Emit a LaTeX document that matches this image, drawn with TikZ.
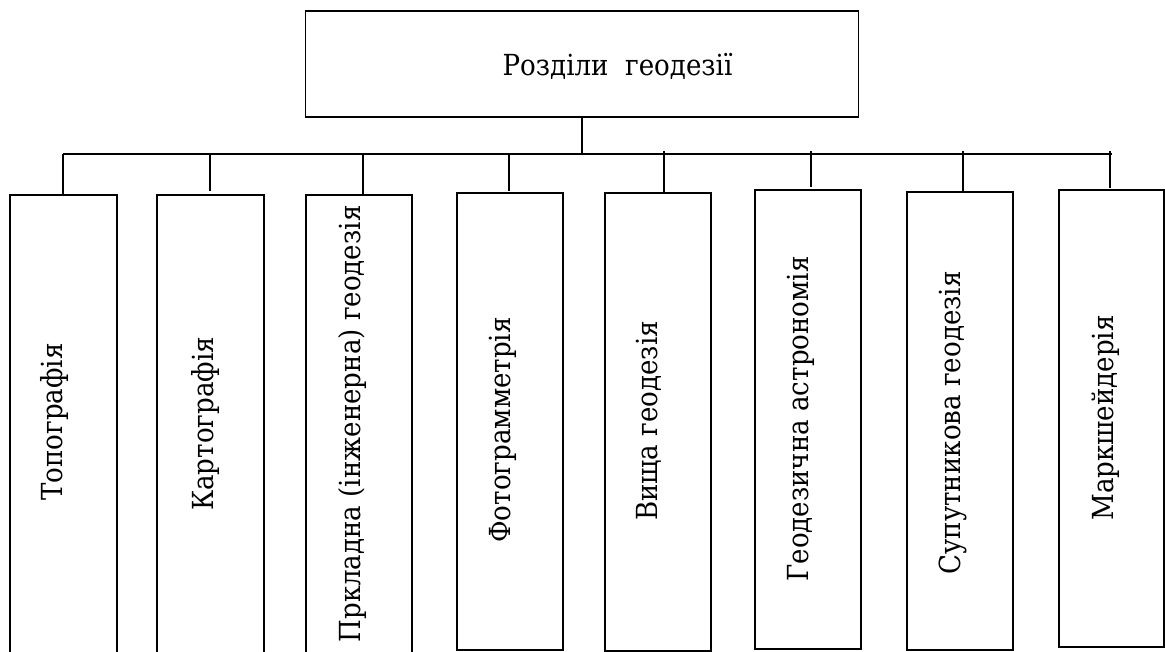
\documentclass[tikz,border=0pt]{standalone}
\usepackage{fontspec}
\setmainfont{DejaVu Serif Condensed}
\usetikzlibrary{calc}
\tikzset{
  boxnode/.style={draw=black, line width=1.1pt, inner sep=0pt, outer sep=0pt, fill=none},
  lbl/.style={font=\fontsize{29}{34}\selectfont, inner sep=0pt, anchor=base},
  vlbl/.style={lbl, rotate=90},
  conn/.style={draw=black, line width=1.8pt}
}
\begin{document}
\begin{tikzpicture}[x=1pt, y=-1pt]
\useasboundingbox (0,0) rectangle (1165,652);
% top box
\node[boxnode, minimum width=553pt, minimum height=106pt] (top) at (582,64) {};
\node[lbl] (toplbl) at (617.5,76) {Розділи\ \ геодезії};
% child boxes
\node[boxnode, minimum width=107pt, minimum height=505pt] (b1) at (63.5,447.5) {};
\node[boxnode, minimum width=107pt, minimum height=505pt] (b2) at (210.5,447.5) {};
\node[boxnode, minimum width=106pt, minimum height=505pt] (b3) at (359,447.5) {};
\node[boxnode, minimum width=106pt, minimum height=457pt] (b4) at (510,421.5) {};
\node[boxnode, minimum width=106pt, minimum height=458pt] (b5) at (658,422) {};
\node[boxnode, minimum width=106pt, minimum height=459pt] (b6) at (808,419.5) {};
\node[boxnode, minimum width=106pt, minimum height=458pt] (b7) at (960,421) {};
\node[boxnode, minimum width=105pt, minimum height=457pt] (b8) at (1111.5,418.5) {};
% labels
\node[vlbl] (t1) at (62,422) {Топографія};
\node[vlbl] (t2) at (213,424) {Картографія};
\node[vlbl] (t3) at (360,424) {Пркладна (інженерна) геодезія};
\node[vlbl] (t4) at (510,430) {Фотограмметрія};
\node[vlbl] (t5) at (657,421) {Вища геодезія};
\node[vlbl] (t6) at (808,419) {Геодезична астрономія};
\node[vlbl] (t7) at (960,423) {Супутникова геодезія};
\node[vlbl] (t8) at (1113,418) {Маркшейдерія};
% bus coordinates
\coordinate (busL) at (63,154);
\coordinate (busR) at (1112,154);
\coordinate (s1) at (63,154);
\coordinate (s2) at (210,154);
\coordinate (s3) at (363,154);
\coordinate (s4) at (509,154);
\coordinate (s5) at (664,151);
\coordinate (s6) at (811,151);
\coordinate (s7) at (963,151);
\coordinate (s8) at (1110,151);
% connectors
\draw[conn] (top.south) -- (top.south |- busL);
\draw[conn] (busL) -- (busR);
\draw[conn] (s1) -- (s1 |- b1.north);
\draw[conn] (s2) -- ($(s2 |- b2.north)+(0,-4)$);
\draw[conn] (s3) -- (s3 |- b3.north);
\draw[conn] (s4) -- ($(s4 |- b4.north)+(0,-2)$);
\draw[conn] (s5) -- (s5 |- b5.north);
\draw[conn] (s6) -- ($(s6 |- b6.north)+(0,-3)$);
\draw[conn] (s7) -- (s7 |- b7.north);
\draw[conn] (s8) -- ($(s8 |- b8.north)+(0,-2)$);
\end{tikzpicture}
\end{document}
